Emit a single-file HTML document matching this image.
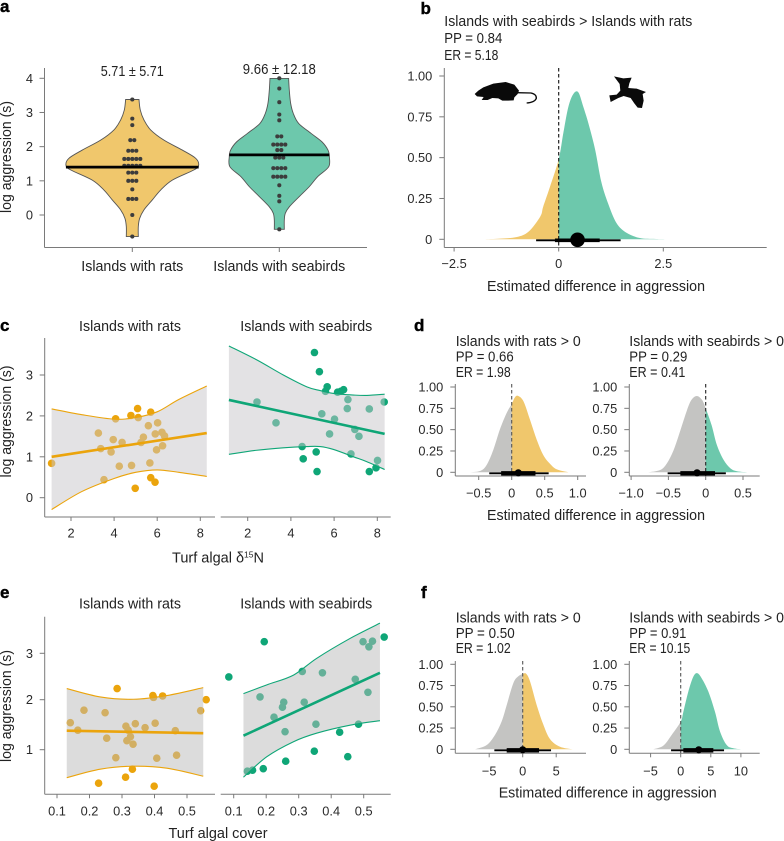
<!DOCTYPE html>
<html lang="en">
<head>
<meta charset="utf-8">
<title>Aggression on islands with rats and seabirds</title>
<style>
html,body{margin:0;padding:0;background:#fff;width:784px;height:841px;overflow:hidden}
svg{display:block;font-family:"Liberation Sans",sans-serif;fill:#222}
.pl{font-weight:bold;font-size:17px;fill:#000;stroke:#000;stroke-width:.4}
.t{font-size:14.5px}
.tick{font-size:12.8px;fill:#2a2a2a}
</style>
</head>
<body>
<svg id="fig" xmlns="http://www.w3.org/2000/svg" width="784" height="841" viewBox="0 0 784 841">
<defs id="defs"></defs>

<g>
<text class="pl" x="0" y="12">a</text>
<text class="pl" x="420.5" y="14">b</text>
<text class="pl" x="0" y="331">c</text>
<text class="pl" x="414" y="331">d</text>
<text class="pl" x="0" y="598">e</text>
<text class="pl" x="421" y="598">f</text>
</g>

<g id="a">
<text class="t" x="132.3" y="76" text-anchor="middle" textLength="63" lengthAdjust="spacingAndGlyphs">5.71 ± 5.71</text>
<text class="t" x="279.3" y="74" text-anchor="middle" textLength="73" lengthAdjust="spacingAndGlyphs">9.66 ± 12.18</text>
<text class="t" x="132.3" y="271" text-anchor="middle" textLength="102" lengthAdjust="spacingAndGlyphs">Islands with rats</text>
<text class="t" x="279.3" y="271" text-anchor="middle" textLength="132" lengthAdjust="spacingAndGlyphs">Islands with seabirds</text>
<text class="t" transform="translate(11,157) rotate(-90)" text-anchor="middle" textLength="112" lengthAdjust="spacingAndGlyphs">log aggression (s)</text>
</g>

<g id="b">
<text class="t" x="444.3" y="26" textLength="248" lengthAdjust="spacingAndGlyphs">Islands with seabirds &gt; Islands with rats</text>
<text class="t" x="444.3" y="43" textLength="58" lengthAdjust="spacingAndGlyphs">PP = 0.84</text>
<text class="t" x="444.3" y="60" textLength="54" lengthAdjust="spacingAndGlyphs">ER = 5.18</text>
<text class="t" x="596" y="291" text-anchor="middle" textLength="218" lengthAdjust="spacingAndGlyphs">Estimated difference in aggression</text>
<g transform="translate(465,70) scale(0.3333)">
<path fill="#0a0a0a" d="M29 72L40 62L55 52L85 41L122 36L148 44L162 62L158 72L148 82L146 91L128 92L112 92L100 85L82 84L68 90L50 90L56 81L36 79Z"/>
<path fill="none" stroke="#0a0a0a" stroke-width="4" d="M155 68L198 69Q215 73 214 85Q209 97 185 99"/>
<path fill="#0a0a0a" d="M447 19L475 25L500 23L493 40L490 54L515 56L543 66L533 72L536 92L531 114L518 113L508 100L497 84L476 78L460 84L437 96L433 76L455 74L466 62L464 42Z"/>
</g>
</g>

<g id="c">
<text class="t" x="130" y="331" text-anchor="middle" textLength="102" lengthAdjust="spacingAndGlyphs">Islands with rats</text>
<text class="t" x="306.3" y="331" text-anchor="middle" textLength="132" lengthAdjust="spacingAndGlyphs">Islands with seabirds</text>
<text class="t" transform="translate(11,421.5) rotate(-90)" text-anchor="middle" textLength="112" lengthAdjust="spacingAndGlyphs">log aggression (s)</text>
<text class="t" x="218" y="562.5" text-anchor="middle">Turf algal δ<tspan font-size="8.5" dy="-5">15</tspan><tspan dy="5">N</tspan></text>
</g>

<g id="d">
<text class="t" x="455.7" y="346" textLength="125" lengthAdjust="spacingAndGlyphs">Islands with rats &gt; 0</text>
<text class="t" x="455.7" y="361.5" textLength="58" lengthAdjust="spacingAndGlyphs">PP = 0.66</text>
<text class="t" x="455.7" y="377" textLength="55" lengthAdjust="spacingAndGlyphs">ER = 1.98</text>
<text class="t" x="629.3" y="346" textLength="154.7" lengthAdjust="spacingAndGlyphs">Islands with seabirds &gt; 0</text>
<text class="t" x="629.3" y="361.5" textLength="58" lengthAdjust="spacingAndGlyphs">PP = 0.29</text>
<text class="t" x="629.3" y="377" textLength="56" lengthAdjust="spacingAndGlyphs">ER = 0.41</text>
<text class="t" x="596" y="520" text-anchor="middle" textLength="218" lengthAdjust="spacingAndGlyphs">Estimated difference in aggression</text>
</g>

<g id="e">
<text class="t" x="130" y="608.5" text-anchor="middle" textLength="102" lengthAdjust="spacingAndGlyphs">Islands with rats</text>
<text class="t" x="306.3" y="608.5" text-anchor="middle" textLength="132" lengthAdjust="spacingAndGlyphs">Islands with seabirds</text>
<text class="t" transform="translate(11,706) rotate(-90)" text-anchor="middle" textLength="112" lengthAdjust="spacingAndGlyphs">log aggression (s)</text>
<text class="t" x="218" y="838" text-anchor="middle" textLength="99" lengthAdjust="spacingAndGlyphs">Turf algal cover</text>
</g>

<g id="f">
<text class="t" x="455.7" y="622.5" textLength="125" lengthAdjust="spacingAndGlyphs">Islands with rats &gt; 0</text>
<text class="t" x="455.7" y="638" textLength="59" lengthAdjust="spacingAndGlyphs">PP = 0.50</text>
<text class="t" x="455.7" y="653" textLength="55" lengthAdjust="spacingAndGlyphs">ER = 1.02</text>
<text class="t" x="629.3" y="622.5" textLength="154.7" lengthAdjust="spacingAndGlyphs">Islands with seabirds &gt; 0</text>
<text class="t" x="629.3" y="638" textLength="57" lengthAdjust="spacingAndGlyphs">PP = 0.91</text>
<text class="t" x="629.3" y="653" textLength="61" lengthAdjust="spacingAndGlyphs">ER = 10.15</text>
<text class="t" x="607.7" y="797.5" text-anchor="middle" textLength="218" lengthAdjust="spacingAndGlyphs">Estimated difference in aggression</text>
</g>
</svg>

<script>
// ---------- panel a data ----------
var violinRatsValue = [3.38,3.07,2.78,2.49,2.19,1.90,1.66,1.46,1.32,1.02,0.73,0.44,0.15,-0.10,-0.34,-0.63];
var violinRatsDensity = [0.10,0.12,0.175,0.275,0.475,0.75,0.95,0.995,0.925,0.60,0.425,0.30,0.175,0.11,0.09,0.09];
var violinBirdsValue = [3.995,3.65,3.27,2.97,2.68,2.39,2.14,1.90,1.71,1.41,1.12,0.83,0.54,0.24,0.05,-0.15,-0.42];
var violinBirdsDensity = [0.14,0.15,0.17,0.21,0.29,0.475,0.64,0.73,0.75,0.74,0.575,0.45,0.30,0.15,0.09,0.075,0.075];
var dotRatsValue = [3.38,2.82,2.63,2.19,1.88,1.64,1.44,1.24,1.0,0.75,0.47,0,-0.63];
var dotRatsCount = [1,1,1,2,3,5,5,3,3,1,3,1,1];
var dotBirdsValue = [4.0,3.7,3.3,2.94,2.77,2.3,2.06,1.9,1.68,1.37,1.12,0.87,0.56,0.4,-0.42];
var dotBirdsCount = [1,1,1,1,1,2,4,2,3,4,4,1,1,1,1];
var medianRats = 1.40;
var medianBirds = 1.76;
var aggressionTicks = [0,1,2,3,4];

// ---------- panel b data ----------
var bX = [-1.79,-1.40,-1.0,-0.72,-0.44,-0.37,-0.21,0,0.11,0.23,0.35,0.47,0.59,0.71,0.87,1.02,1.18,1.38,1.62,1.94,2.33,2.85];
var bD = [0,0.004,0.014,0.047,0.14,0.2,0.32,0.49,0.65,0.81,0.89,0.9,0.81,0.71,0.55,0.35,0.22,0.10,0.04,0.008,0.002,0];
var bInterval = [-0.54,-0.09,0.45,0.98,1.48];
var bXTicks = [-2.5,0,2.5];
var bXTickLabels = ['−2.5','0','2.5'];
var probTicks = [0,0.25,0.5,0.75,1];
var probTickLabels = ['0','0.25','0.50','0.75','1.00'];

// ---------- panel c data ----------
var cRatsX = [1.10,3.27,3.38,3.53,3.86,3.96,4.07,4.24,4.37,4.78,4.81,4.98,5.09,5.12,5.25,5.36,5.59,5.66,5.70,5.70,5.90,5.91,5.97,6.02,6.22,6.25,6.34];
var cRatsY = [0.84,1.58,1.20,0.44,1.12,1.42,1.93,0.77,1.35,2.01,0.79,0.23,2.18,1.96,1.35,1.48,1.76,0.85,2.09,0.49,0.38,1.56,1.17,1.83,1.60,1.27,1.51];
var cRatsBandX = [1.1,2.5,4,5,6,7,8.3];
var cRatsUpper = [2.17,2.03,1.92,1.96,2.1,2.4,2.73];
var cRatsLower = [-0.29,0.15,0.47,0.62,0.68,0.62,0.52];
var cRatsFitX = [1.1,8.3];
var cRatsFitY = [1.0,1.58];
var cBirdsX = [2.43,3.31,4.52,4.57,5.09,5.17,5.21,5.32,5.43,5.60,5.68,5.79,6.02,6.16,6.31,6.44,6.61,6.64,6.78,6.96,7.15,7.63,7.63,7.94,8.01,8.32];
var cBirdsY = [2.34,1.83,1.25,0.95,3.55,1.12,0.64,3.08,2.05,2.60,2.71,1.56,1.92,2.58,2.60,2.64,2.18,2.40,1.07,1.67,1.50,2.17,0.64,0.73,0.91,2.34];
var cBirdsBandX = [1.13,2.42,3.65,4.74,5.35,5.97,6.9,7.52,8.34];
var cBirdsUpper = [3.71,3.37,3.0,2.71,2.62,2.55,2.51,2.50,2.53];
var cBirdsLower = [1.06,1.16,1.22,1.25,1.25,1.18,1.0,0.88,0.69];
var cBirdsFitX = [1.13,8.34];
var cBirdsFitY = [2.39,1.56];
var cXTicks = [2,4,6,8];
var cYTicks = [0,1,2,3];

// ---------- panel d data ----------
var d1X = [-0.66,-0.48,-0.38,-0.28,-0.18,-0.08,0,0.05,0.10,0.18,0.28,0.38,0.48,0.58,0.68,0.86];
var d1D = [0,0.016,0.086,0.26,0.5,0.69,0.80,0.88,0.895,0.83,0.61,0.38,0.2,0.1,0.035,0];
var d1Interval = [-0.34,-0.16,0.10,0.36,0.56];
var d1XTicks = [-0.5,0,0.5,1.0];
var d1XTickLabels = ['−0.5','0','0.5','1.0'];
var d2X = [-0.77,-0.61,-0.52,-0.43,-0.34,-0.25,-0.19,-0.12,-0.05,0,0.08,0.15,0.24,0.33,0.42,0.57];
var d2D = [0,0.027,0.105,0.26,0.49,0.73,0.85,0.895,0.85,0.75,0.55,0.32,0.145,0.047,0.012,0];
var d2Interval = [-0.51,-0.34,-0.116,0.125,0.27];
var d2XTicks = [-1.0,-0.5,0,0.5];
var d2XTickLabels = ['−1.0','−0.5','0','0.5'];

// ---------- panel e data ----------
var eRatsX = [0.141,0.164,0.183,0.228,0.248,0.253,0.281,0.285,0.312,0.311,0.315,0.319,0.326,0.332,0.334,0.341,0.371,0.395,0.397,0.399,0.402,0.407,0.425,0.464,0.468,0.542,0.559];
var eRatsY = [1.54,1.39,1.79,0.33,1.74,1.23,0.84,2.24,1.47,0.45,1.18,1.39,1.26,0.61,1.11,1.52,1.44,2.09,2.05,0.27,1.53,0.83,2.08,1.38,0.89,1.78,2.0];
var eRatsBandX = [0.13,0.233,0.335,0.438,0.55];
var eRatsUpper = [2.24,2.06,2.01,2.09,2.26];
var eRatsLower = [0.44,0.61,0.67,0.63,0.47];
var eRatsFitX = [0.13,0.55];
var eRatsFitY = [1.38,1.33];
var eBirdsX = [0.085,0.142,0.158,0.191,0.181,0.194,0.224,0.250,0.254,0.258,0.260,0.311,0.317,0.348,0.353,0.373,0.426,0.451,0.474,0.484,0.498,0.513,0.516,0.527,0.563];
var eBirdsY = [2.49,0.57,0.59,0.62,2.06,3.25,1.65,1.85,1.95,1.36,0.77,2.61,1.95,0.97,1.51,2.58,1.35,0.86,2.44,1.51,3.25,2.16,3.14,3.26,3.35];
var eBirdsBandX = [0.13,0.202,0.284,0.355,0.458,0.55];
var eBirdsUpper = [2.13,2.32,2.53,2.89,3.32,3.65];
var eBirdsLower = [0.45,0.86,1.16,1.33,1.49,1.58];
var eBirdsFitX = [0.13,0.55];
var eBirdsFitY = [1.28,2.58];
var eXTicks = [0.1,0.2,0.3,0.4,0.5];
var eXTickLabels = ['0.1','0.2','0.3','0.4','0.5'];
var eYTicks = [1,2,3];

// ---------- panel f data ----------
var f1X = [-7.1,-5.37,-4.13,-3.13,-2.39,-1.39,-0.65,0,0.5,1.09,2.09,3.08,4.08,5.57,7.46];
var f1D = [0,0.05,0.17,0.33,0.52,0.78,0.86,0.885,0.89,0.8,0.52,0.29,0.12,0.03,0];
var f1Interval = [-4.23,-2.39,0,2.44,4.23];
var f1XTicks = [-5,0,5];
var f1XTickLabels = ['−5','0','5'];
var f2X = [-4.54,-2.88,-1.49,0,0.44,1.27,2.1,2.77,3.49,4.59,5.7,6.53,7.64,8.74,10.13];
var f2D = [0,0.043,0.17,0.325,0.44,0.68,0.855,0.895,0.835,0.68,0.44,0.21,0.05,0.012,0];
var f2Interval = [-1.6,0.44,3.0,5.42,7.2];
var f2XTicks = [-5,0,5,10];
var f2XTickLabels = ['−5','0','5','10'];

// ---------- helpers ----------
var NS = 'http://www.w3.org/2000/svg';
var AXIS = '#7a7a7a', YEL = '#F0C76C', GRN = '#6DC8AC', GRY = '#C4C4C2';
var ORANGE = '#EBA40C', GREEN = '#0FA677';
function el(tag, attrs, parent) {
  var n = document.createElementNS(NS, tag);
  for (var k in attrs) n.setAttribute(k, attrs[k]);
  parent.appendChild(n);
  return n;
}
function linear(d0, r0, d1, r1) {
  return function (v) { return r0 + (v - d0) * (r1 - r0) / (d1 - d0); };
}
function piecewise(ds, rs) {
  return function (v) {
    var i = 0;
    while (i < ds.length - 2 && v > ds[i + 1]) i++;
    return rs[i] + (v - ds[i]) * (rs[i + 1] - rs[i]) / (ds[i + 1] - ds[i]);
  };
}
function smooth(p) {
  var s = '';
  for (var i = 0; i < p.length - 1; i++) {
    var a = p[Math.max(i - 1, 0)], b = p[i], c = p[i + 1], d = p[Math.min(i + 2, p.length - 1)];
    s += 'C' + (b[0] + (c[0] - a[0]) / 6).toFixed(2) + ' ' + (b[1] + (c[1] - a[1]) / 6).toFixed(2) + ' ' +
         (c[0] - (d[0] - b[0]) / 6).toFixed(2) + ' ' + (c[1] - (d[1] - b[1]) / 6).toFixed(2) + ' ' +
         c[0].toFixed(2) + ' ' + c[1].toFixed(2);
  }
  return s;
}
function axisLine(g, x1, y1, x2, y2) {
  var l = el('line', {x1: x1, y1: y1, x2: x2, y2: y2, stroke: AXIS, 'stroke-width': 1}, g);
  
  
}
function xTicks(g, ticks, labels, sx, bottom, baseline) {
  ticks.forEach(function (t, i) {
    var l = el('line', {x1: sx(t), x2: sx(t), y1: bottom, y2: bottom + 4, stroke: AXIS, 'stroke-width': 1}, g);
    
    
    var tx = el('text', {x: sx(t), y: baseline, 'text-anchor': 'middle', 'class': 'tick'}, g);
    
    
    tx.textContent = labels[i];
  });
}
function yTicks(g, ticks, labels, sy, left, labelEnd) {
  ticks.forEach(function (t, i) {
    var l = el('line', {x1: left - 5, x2: left, y1: sy(t), y2: sy(t), stroke: AXIS, 'stroke-width': 1}, g);
    
    
    var tx = el('text', {x: labelEnd, y: sy(t) + 4.5, 'text-anchor': 'end', 'class': 'tick'}, g);
    
    
    tx.textContent = labels[i];
  });
}

// ---------- violin panel ----------
function violin(g, cx, values, dens, rows, counts, median, sy, fill, wScale) {
  var right = values.map(function (v, i) { return [cx + dens[i] * wScale, sy(v)]; });
  var left = values.map(function (v, i) { return [cx - dens[i] * wScale, sy(v)]; }).reverse();
  var d = 'M' + right[0][0] + ' ' + right[0][1] + smooth(right) + 'L' + left[0][0] + ' ' + left[0][1] + smooth(left) + 'Z';
  var body = el('path', {d: d, fill: fill, stroke: '#555', 'stroke-width': 0.9}, g);
  
  
  rows.forEach(function (v, i) {
    for (var k = 0; k < counts[i]; k++) {
      var dot = el('circle', {cx: cx + (k - (counts[i] - 1) / 2) * 4, cy: sy(v), r: 2.05, fill: '#3c3c3c'}, g);
      
      
    }
  });
  var dm = dens.reduce(function (acc, w, i) {
    return Math.abs(values[i] - median) < Math.abs(values[acc] - median) ? i : acc;
  }, 0);
  var hw = dens[dm] * wScale;
  var med = el('line', {x1: cx - hw, x2: cx + hw, y1: sy(median), y2: sy(median), stroke: '#000', 'stroke-width': 2.8}, g);
  
  
}
(function () {
  var g = document.getElementById('a');
  var sy = linear(0, 215, 4, 78.3);
  axisLine(g, 44.5, 68, 44.5, 247.5);
  axisLine(g, 44.5, 247.5, 367, 247.5);
  yTicks(g, aggressionTicks, aggressionTicks.map(String), sy, 44.5, 33);
  [132.3, 279.3].forEach(function (x) {
    var t = el('line', {x1: x, x2: x, y1: 247.5, y2: 252, stroke: AXIS, 'stroke-width': 1}, g);
    
    
  });
  violin(g, 132.3, violinRatsValue, violinRatsDensity, dotRatsValue, dotRatsCount, medianRats, sy, YEL, 66.7);
  violin(g, 279.3, violinBirdsValue, violinBirdsDensity, dotBirdsValue, dotBirdsCount, medianBirds, sy, GRN, 66.7);
})();

// ---------- posterior panels ----------
var clipCount = 0;
function posterior(g, opt) {
  var sx = opt.sx, sy = opt.sy;
  axisLine(g, opt.left, opt.top, opt.left, opt.bottom);
  axisLine(g, opt.left, opt.bottom, opt.right, opt.bottom);
  var pts = opt.xs.map(function (x, i) { return [sx(x), sy(opt.ds[i])]; });
  var d = 'M' + pts[0][0] + ' ' + sy(0) + 'L' + pts[0][0] + ' ' + pts[0][1] + smooth(pts) + 'L' + pts[pts.length - 1][0] + ' ' + sy(0) + 'Z';
  var defs = document.getElementById('defs');
  var id = 'clip' + (clipCount++);
  var c1 = el('clipPath', {id: id + 'l'}, defs);
  el('rect', {x: 0, y: 0, width: sx(0), height: 841}, c1);
  var c2 = el('clipPath', {id: id + 'r'}, defs);
  el('rect', {x: sx(0), y: 0, width: 784 - sx(0), height: 841}, c2);
  var lf = el('path', {d: d, fill: opt.leftFill, 'clip-path': 'url(#' + id + 'l)'}, g);
  
  
  var rf = el('path', {d: d, fill: opt.rightFill, 'clip-path': 'url(#' + id + 'r)'}, g);
  
  
  var z = el('line', {x1: sx(0), x2: sx(0), y1: opt.top, y2: opt.bottom, stroke: opt.dashColor, 'stroke-width': 1.1, 'stroke-dasharray': '3.5 2.5'}, g);
  
  
  var iv = opt.interval;
  var thin = el('line', {x1: sx(iv[0]), x2: sx(iv[4]), y1: sy(0) + 1, y2: sy(0) + 1, stroke: '#000', 'stroke-width': 1.9}, g);
  
  
  var thick = el('line', {x1: sx(iv[1]), x2: sx(iv[3]), y1: sy(0) + 1, y2: sy(0) + 1, stroke: '#000', 'stroke-width': opt.thick}, g);
  
  
  var m = el('circle', {cx: sx(iv[2]), cy: sy(0) + 0.5, r: opt.r, fill: '#000'}, g);
  
  
  xTicks(g, opt.xticks, opt.xlabels, sx, opt.bottom, opt.tickBase);
  yTicks(g, probTicks, probTickLabels, sy, opt.left, opt.left - 12);
}
posterior(document.getElementById('b'), {
  sx: linear(0, 558.7, 2.5, 663.3), sy: linear(0, 239.3, 1, 76),
  left: 444.3, right: 766.7, top: 68, bottom: 247.5, tickBase: 268,
  xs: bX, ds: bD, interval: bInterval, xticks: bXTicks, xlabels: bXTickLabels,
  leftFill: YEL, rightFill: GRN, dashColor: '#111', thick: 3.6, r: 7.3
});
posterior(document.getElementById('d'), {
  sx: linear(0, 511.7, 1, 577.7), sy: linear(0, 472.3, 1, 387),
  left: 455.3, right: 586, top: 384, bottom: 476, tickBase: 497.5,
  xs: d1X, ds: d1D, interval: d1Interval, xticks: d1XTicks, xlabels: d1XTickLabels,
  leftFill: GRY, rightFill: YEL, dashColor: '#555', thick: 4.4, r: 3.6
});
posterior(document.getElementById('d'), {
  sx: linear(0, 705.7, 0.5, 743), sy: linear(0, 472.3, 1, 387),
  left: 629.3, right: 759.7, top: 384, bottom: 476, tickBase: 497.5,
  xs: d2X, ds: d2D, interval: d2Interval, xticks: d2XTicks, xlabels: d2XTickLabels,
  leftFill: GRY, rightFill: GRN, dashColor: '#222', thick: 4.4, r: 3.6
});
posterior(document.getElementById('f'), {
  sx: linear(0, 522.7, 5, 556.2), sy: linear(0, 749.3, 1, 664.3),
  left: 455.3, right: 586, top: 661, bottom: 753.3, tickBase: 775.7,
  xs: f1X, ds: f1D, interval: f1Interval, xticks: f1XTicks, xlabels: f1XTickLabels,
  leftFill: GRY, rightFill: YEL, dashColor: '#555', thick: 4.4, r: 3.6
});
posterior(document.getElementById('f'), {
  sx: linear(0, 680.7, 5, 710.8), sy: linear(0, 749.3, 1, 664.3),
  left: 629.3, right: 759.7, top: 661, bottom: 753.3, tickBase: 775.7,
  xs: f2X, ds: f2D, interval: f2Interval, xticks: f2XTicks, xlabels: f2XTickLabels,
  leftFill: GRY, rightFill: GRN, dashColor: '#555', thick: 4.4, r: 3.6
});

// ---------- regression panels ----------
function regression(g, o) {
  var sx = o.sx, sy = o.sy;
  o.xs.forEach(function (x, i) {
    var c = el('circle', {cx: sx(x), cy: sy(o.ys[i]), r: 3.8, fill: o.color}, g);
    
    
  });
  var up = o.bandX.map(function (x, i) { return [sx(x), sy(o.upper[i])]; });
  var lo = o.bandX.map(function (x, i) { return [sx(x), sy(o.lower[i])]; });
  var rlo = lo.slice().reverse();
  var band = el('path', {
    d: 'M' + up[0][0] + ' ' + up[0][1] + smooth(up) + 'L' + rlo[0][0] + ' ' + rlo[0][1] + smooth(rlo) + 'Z',
    fill: o.band
  }, g);
  
  
  var ue = el('path', {d: 'M' + up[0][0] + ' ' + up[0][1] + smooth(up), fill: 'none', stroke: o.color, 'stroke-width': 1.1}, g);
  
  
  var le = el('path', {d: 'M' + lo[0][0] + ' ' + lo[0][1] + smooth(lo), fill: 'none', stroke: o.color, 'stroke-width': 1.1}, g);
  
  
  var fit = el('line', {x1: sx(o.fitX[0]), y1: sy(o.fitY[0]), x2: sx(o.fitX[1]), y2: sy(o.fitY[1]), stroke: o.color, 'stroke-width': 2.6}, g);
  
  
}
(function () {
  var g = document.getElementById('c');
  var sy = linear(0, 497.7, 3, 375);
  axisLine(g, 44.7, 338, 44.7, 517);
  axisLine(g, 44.7, 517, 215, 517);
  axisLine(g, 220.7, 517, 390.7, 517);
  yTicks(g, cYTicks, cYTicks.map(String), sy, 44.7, 33);
  var s1 = linear(2, 71, 8, 200.3), s2 = linear(2, 247.7, 8, 377.3);
  xTicks(g, cXTicks, cXTicks.map(String), s1, 517, 537.7);
  xTicks(g, cXTicks, cXTicks.map(String), s2, 517, 537.7);
  regression(g, {sx: s1, sy: sy, xs: cRatsX, ys: cRatsY, bandX: cRatsBandX, upper: cRatsUpper, lower: cRatsLower, fitX: cRatsFitX, fitY: cRatsFitY, color: ORANGE, band: 'rgba(200,198,201,0.5)'});
  regression(g, {sx: s2, sy: sy, xs: cBirdsX, ys: cBirdsY, bandX: cBirdsBandX, upper: cBirdsUpper, lower: cBirdsLower, fitX: cBirdsFitX, fitY: cBirdsFitY, color: GREEN, band: 'rgba(200,198,201,0.5)'});
})();
(function () {
  var g = document.getElementById('e');
  var sy = piecewise([1, 2, 3], [749.7, 699.7, 653.3]);
  axisLine(g, 44.7, 616.7, 44.7, 794.3);
  axisLine(g, 44.7, 794.3, 215, 794.3);
  axisLine(g, 220.7, 794.3, 390.7, 794.3);
  yTicks(g, eYTicks, eYTicks.map(String), sy, 44.7, 33);
  var s1 = linear(0.1, 57, 0.5, 187), s2 = linear(0.1, 233.7, 0.5, 363.7);
  xTicks(g, eXTicks, eXTickLabels, s1, 794.3, 815.7);
  xTicks(g, eXTicks, eXTickLabels, s2, 794.3, 815.7);
  regression(g, {sx: s1, sy: sy, xs: eRatsX, ys: eRatsY, bandX: eRatsBandX, upper: eRatsUpper, lower: eRatsLower, fitX: eRatsFitX, fitY: eRatsFitY, color: ORANGE, band: 'rgba(185,185,185,0.5)'});
  regression(g, {sx: s2, sy: sy, xs: eBirdsX, ys: eBirdsY, bandX: eBirdsBandX, upper: eBirdsUpper, lower: eBirdsLower, fitX: eBirdsFitX, fitY: eBirdsFitY, color: GREEN, band: 'rgba(185,185,185,0.5)'});
})();
</script>
</body>
</html>
